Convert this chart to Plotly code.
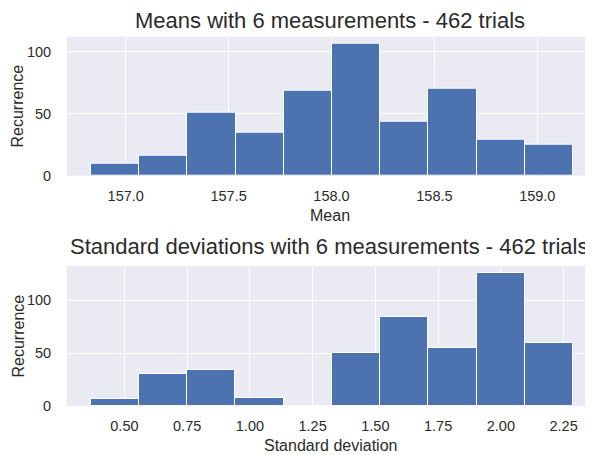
import plotly.graph_objects as go

# ---- data ----
mean_edges = [156.832, 157.066, 157.300, 157.534, 157.768, 158.003,
              158.237, 158.471, 158.705, 158.939, 159.173]
mean_counts = [10, 16, 51, 35, 69, 107, 44, 70, 29, 25]

std_edges = [0.365, 0.557, 0.749, 0.942, 1.134, 1.326,
             1.518, 1.710, 1.903, 2.095, 2.287]
std_counts = [7, 30, 34, 8, 0, 50, 84, 55, 126, 60]

mean_ticks = [157.0, 157.5, 158.0, 158.5, 159.0]
std_ticks = [0.50, 0.75, 1.00, 1.25, 1.50, 1.75, 2.00, 2.25]
y_ticks = [0, 50, 100]

title_top = "Means with 6 measurements - 462 trials"
title_bot = "Standard deviations with 6 measurements - 462 trials"
xlabel_top = "Mean"
xlabel_bot = "Standard deviation"
ylabel = "Recurrence"

# ---- style ----
# the page body has an 8px margin, so the figure is drawn 8px in from the window corner
OFF = 8
W, H = 593 - OFF, 455 - OFF
L = 67 - OFF
BAR = "#4C72B0"
BG = "#EAEAF2"
TXT = "#2b2b2b"
FONT = "Liberation Sans, Arial, sans-serif"


def centers(edges):
    return [(a + b) / 2 for a, b in zip(edges[:-1], edges[1:])]


def widths(edges):
    return [b - a for a, b in zip(edges[:-1], edges[1:])]


def px(x):
    # window pixel -> paper fraction
    return (x - OFF - L) / (W - L)


def py(y):
    return 1 - (y - OFF) / H


fig = go.Figure()
fig.add_trace(go.Bar(x=centers(mean_edges), y=mean_counts, width=widths(mean_edges),
                     marker=dict(color=BAR, line=dict(color="white", width=1)),
                     xaxis="x", yaxis="y", showlegend=False))
fig.add_trace(go.Bar(x=centers(std_edges), y=std_counts, width=widths(std_edges),
                     marker=dict(color=BAR, line=dict(color="white", width=1)),
                     xaxis="x2", yaxis="y2", showlegend=False))

axis_common = dict(showgrid=True, gridcolor="white", gridwidth=1, zeroline=False,
                   showline=False, ticks="outside", tickcolor="rgba(0,0,0,0)",
                   automargin=False,
                   tickfont=dict(size=14.5, color=TXT, family=FONT))

top_dom = [py(175.7), py(36.7)]
bot_dom = [py(406.0), py(266.0)]

fig.update_layout(
    width=W, height=H,
    margin=dict(l=L, r=0, t=0, b=0),
    paper_bgcolor="white", plot_bgcolor=BG,
    bargap=0,
    font=dict(family=FONT, color=TXT),
    xaxis=dict(domain=[0, 1], range=[156.7146, 159.2805 - 2 / 205], tickvals=mean_ticks,
               tickformat=".1f", anchor="y", ticklen=7, **axis_common),
    yaxis=dict(domain=top_dom, range=[0, 112.35], tickvals=y_ticks, anchor="x",
               ticklen=12, **axis_common),
    xaxis2=dict(domain=[0, 1], range=[0.2712, 2.3752 - 2 / 250], tickvals=std_ticks,
                tickformat=".2f", anchor="y2", ticklen=7, **axis_common),
    yaxis2=dict(domain=bot_dom, range=[0, 132.3], tickvals=y_ticks, anchor="x2",
                ticklen=12, **axis_common),
)

ann = []
ann.append(dict(text=title_top, x=px(330), y=py(21), font=dict(size=22)))
ann.append(dict(text=title_bot, x=px(329), y=py(246), font=dict(size=22)))
ann.append(dict(text=xlabel_top, x=px(330), y=py(215), font=dict(size=16)))
ann.append(dict(text=xlabel_bot, x=px(330), y=py(445), font=dict(size=16)))
ann.append(dict(text=ylabel, x=px(17.5), y=py(106), font=dict(size=16), textangle=-90))
ann.append(dict(text=ylabel, x=px(17.5), y=py(336), font=dict(size=16), textangle=-90))
for a in ann:
    a.update(xref="paper", yref="paper", xanchor="center", yanchor="middle",
             showarrow=False)
    a["font"].update(family=FONT, color=TXT)
fig.update_layout(annotations=ann)

fig.write_html("out.html")
